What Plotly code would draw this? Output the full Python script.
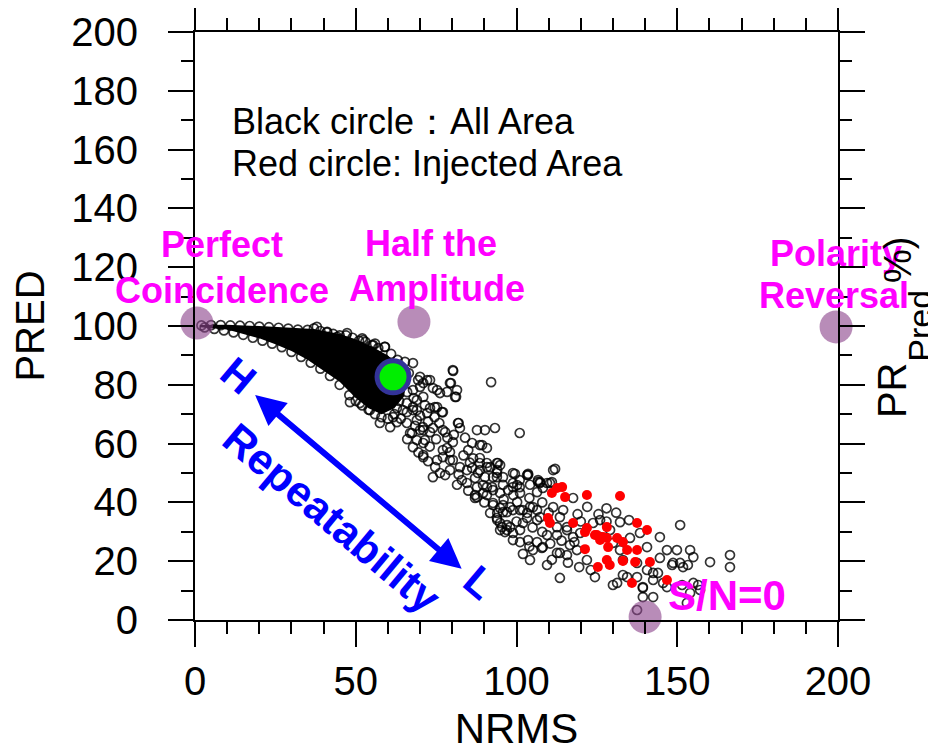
import plotly.graph_objects as go

FONT = "Liberation Sans, Arial, sans-serif"

# ---- dense core of the black cloud (outline) ----
band_upper_nrms = [1.5, 10, 20, 30, 37, 45, 50, 55, 60, 64, 66]
band_upper_pred = [100.3, 100.4, 100.0, 99.4, 99.0, 97.3, 95.5, 93.0, 90.0, 86.0, 82.0]
band_lower_nrms = [65, 62, 58, 54, 50, 45, 40, 35, 30, 25, 20, 10, 1.5]
band_lower_pred = [76, 72, 70, 72, 75.5, 81, 84.8, 88.5, 91.5, 93.8, 95.8, 98.8, 99.6]

# ---- black open circles (All Area) ----
edge_circles = [
    (2, 100.2), (5, 100.3), (8, 100.3), (11, 100.2), (14, 100.1), (17, 100), (20, 99.8), (23, 99.6),
    (26, 99.4), (29, 99.1), (32, 98.8), (35, 98.7), (37, 99.2), (39, 98.3), (41, 97.8), (43, 97.3),
    (45, 96.8), (47, 96.8), (49, 96), (51, 95), (53, 94.6), (55, 93.5), (57, 92.5), (59, 92.9),
    (52, 95.8), (56, 94),
    (3, 99.5), (6, 99), (9, 98.5), (12, 97.8), (15, 97), (18, 96), (21, 95), (24, 94), (27, 92.8),
    (30, 91.2), (33, 89.5), (36, 87.5), (39, 85.5), (42, 83), (45, 80), (48, 76.5), (50, 74.5),
    (52, 73), (54, 71.5), (56, 70), (58, 69), (60, 68.5), (62, 70),
]
scatter_circles = [
    (52.3, 95.2), (55.4, 93.5), (59.1, 92.9), (65.3, 87.8), (80.2, 85), (73.1, 81.6), (75.3, 78.2),
    (79.3, 80.6), (80.9, 75.9), (78.4, 77.6), (70, 79.3), (71, 75.9), (67.8, 78.2), (69, 74.8),
    (73.1, 72.1), (75.3, 72.4), (77.1, 70.7), (72.2, 70.4), (69, 71.4), (65.9, 70.7), (57.5, 67),
    (60.7, 65.6), (62.8, 67.3), (65.9, 67), (69, 68), (71, 64.6), (74, 65.3), (77.1, 64.6),
    (48.2, 74.1), (51.3, 73.8), (54.4, 71.4), (58.5, 72.4), (62.8, 72.1), (65.9, 73.8), (69.4, 81.6),
    (37.9, 99.7), (41.1, 98), (44.2, 96.3), (47.3, 97.6), (67.8, 87.4), (70, 82.7), (72.2, 81.6),
    (53.5, 75.9), (57.5, 78.2), (61.6, 69), (67.8, 71.4), (66.9, 63.6), (70.9, 65.6),
    (80.3, 84.7), (92.1, 80.9), (76.2, 77.2), (79.6, 80.6), (81.5, 78.2), (81.2, 75.9), (71, 80.6),
    (74, 78.9), (82, 67), (82.4, 65.3), (87.7, 64.6), (90.2, 64.6), (93.3, 65.3), (101, 63.6),
    (85, 57.8), (88.6, 59.5), (90.8, 58.5), (78.4, 58.5), (77.1, 55.4), (79.3, 54.4), (67.8, 58.8),
    (71, 55.4), (69, 61.2), (70, 64.6), (67.5, 63.6), (74.7, 52), (76.2, 50), (74, 48.6), (79.3, 51),
    (82.4, 52), (81.5, 46), (84.6, 46.6), (88.6, 53.4), (88.6, 51), (91.8, 52), (94, 51), (94.2, 53.4),
    (87.7, 45.2), (89.6, 43.2), (87.7, 41.8), (90.8, 45.2), (92.7, 44.2), (95.8, 48.6), (98.9, 50),
    (103.3, 49.3), (95.8, 46), (98.9, 46.6), (101, 45.2), (104.2, 46), (107.3, 46.6), (111.4, 51),
    (109.5, 46.6), (92.7, 39.8), (94, 36.4), (97, 36.7), (94.9, 33),
    (64.7, 71.4), (67.8, 72.4), (71.5, 73.1), (74.6, 72.4), (76.8, 70.7), (73.1, 63.9), (71.5, 61.2),
    (71, 60.2), (71, 56.1), (77.8, 63.9), (81.8, 67), (80.2, 60.5), (77.1, 57.8), (79.3, 57.1),
    (86.2, 60.2), (89.3, 59.5), (75.3, 54.4), (77.8, 49.3), (80.2, 54.4), (84.6, 51), (86.2, 51.7),
    (83, 47.6), (88.6, 55.1), (90.8, 53.4), (93.9, 53.4), (88, 50), (90.2, 48.6), (89.6, 45.9),
    (92.4, 45.2), (93.9, 50), (87.1, 41.5), (90.8, 42.5), (92.7, 39.1), (94.9, 38.1), (93.9, 34.7),
    (100.2, 45.9), (97.4, 44.2), (94.9, 43.2), (106.7, 47.6), (111, 46.9), (108.2, 44.9), (98, 38.4),
    (101.1, 37.4), (103.3, 36.4), (105.1, 38.4), (107.3, 35), (102, 33), (95.5, 31.6), (98, 31.6),
    (112, 51.4), (103.6, 49.7), (99.5, 49.7), (101, 47.6), (106.7, 47), (117.6, 41.5), (90.8, 52),
    (92.7, 48.6), (94.9, 52.7), (93.9, 48.6), (94, 34), (95.8, 36.7), (98.9, 37.4), (97, 32.3),
    (97, 30.6), (98.9, 27.2), (94.9, 30.6), (104.2, 20.4), (109.5, 18.7), (107.9, 24.5), (105.1, 23.8),
    (113.5, 22.8), (113.5, 14.3), (87.1, 48.3), (87.1, 42.5), (95.8, 39.1), (91.8, 36.4), (98.9, 45.2),
    (101.1, 43.2), (100.2, 40.1), (103.6, 49.3), (107.3, 46.9), (106.4, 43.5), (110.4, 46.6),
    (102, 37.4), (104.2, 38.4), (106.4, 37.4), (103.3, 34.7), (106.4, 34), (101.1, 30.6), (96.4, 29.9),
    (98.9, 29.6), (101.1, 26.5), (103.6, 27.2), (106.4, 26.5), (108.2, 24.8), (109.5, 28.9),
    (112.6, 28.9), (111.4, 38.4), (113.5, 35), (114.5, 37.4), (112.6, 31.6), (115.7, 30.6),
    (117.6, 28.2), (116.6, 25.5), (118.8, 23.8), (115.7, 22.1), (112.6, 22.8), (121.9, 20.4),
    (119.5, 18), (123.1, 17), (124.4, 14.6), (115.7, 31.6), (119.8, 29.6), (123.8, 33), (126, 28.2),
    (129.1, 30.6), (132.2, 33.3), (130, 26.2), (132.2, 23.8), (135.3, 27.9), (138.4, 29.6),
    (140.6, 24.8), (133.1, 20.4), (137.5, 19.4), (140.6, 17), (131.3, 12.6), (134.4, 14.6),
    (139.3, 11.2), (142.5, 7.8), (144.6, 28.2), (146.8, 23.8), (144.6, 21.1), (142.5, 16),
    (145.6, 12.6), (149.9, 23.8), (150.9, 32.3), (154, 23.8), (155, 21.4), (148.7, 19.4), (151.8, 18),
    (155, 12.6), (157.1, 10.2), (160.2, 19.7), (166.4, 22.1), (166.4, 18), (153, 5.8),
    (130, 11.9), (133.1, 15.3), (137.5, 14.6), (139.3, 10.9), (142.5, 13.6), (144, 16), (146.8, 11.2),
    (151.5, 11.9), (154, 9.2), (156.5, 11.9), (148.4, 18.7), (150.9, 19.4), (153.3, 18.7),
    (137.5, 3.4), (139.3, 7.8), (125.5, 36), (128, 38), (131, 36.5), (135, 34), (122, 38.5), (119, 36),
    (63.5, 74.5), (64, 68.5), (66, 61.5), (68.5, 66), (70, 69.5), (72.5, 67.5), (74.5, 69), (76, 67),
    (73, 59), (75, 61.5), (69.5, 57), (72.5, 54), (78.5, 62), (80.5, 63), (84, 62), (83.5, 56),
    (86.5, 55), (85.5, 53.5), (82, 49.5), (85, 44), (90, 40), (96, 41), (99, 42.5), (104, 41.5),
    (108, 40), (110, 36.5), (105, 31.5), (108, 30), (110.5, 26), (104, 25), (102, 22.5), (100, 33.5),
    (111, 20.5), (116, 19.5), (118, 26.5), (114, 27), (120, 33.5), (126, 34), (128, 33.5),
    (60, 76), (62, 77.5), (64, 80), (66.5, 84), (63, 88.5), (61, 90.5), (66, 77.5), (68, 75.5),
]
black_nrms = [p[0] for p in edge_circles + scatter_circles]
black_pred = [p[1] for p in edge_circles + scatter_circles]

# ---- red filled circles (Injected Area) ----
red_nrms = [112.6, 114.2, 111, 115.1, 121.9, 132.2, 109.8, 110.4, 117.6, 121.9, 121.3, 128.1, 125,
            126.9, 126, 128.1, 131.3, 133.1, 134.4, 128.5, 121.3, 137.5, 140.6, 137.5, 128.1, 133.1,
            136.9, 141.5, 125.3, 135.9, 146.8, 124.4, 129]
red_pred = [44.9, 45.2, 43.2, 41.8, 42.5, 42.2, 34.7, 33, 33, 31.3, 29.9, 31.6, 28.9,
            28.2, 27.2, 27.9, 27.9, 26.5, 23.8, 24.8, 24.1, 33, 30.6, 23.8, 20.4, 20.1,
            19.7, 19.7, 18, 12.6, 13.6, 28.9, 18.7]

# ---- reference markers ----
ref_nrms = [0.6, 68.1, 199.4, 140]
ref_pred = [101, 101.4, 99.7, 1]
mean_nrms = [61.6]
mean_pred = [82.7]

x_ticks = [0, 50, 100, 150, 200]
y_ticks = [0, 20, 40, 60, 80, 100, 120, 140, 160, 180, 200]

fig = go.Figure()
fig.add_trace(go.Scatter(
    x=band_upper_nrms + band_lower_nrms, y=band_upper_pred + band_lower_pred,
    mode="lines", fill="toself", fillcolor="black", line=dict(width=0, color="black"),
    hoverinfo="skip", showlegend=False))
fig.add_trace(go.Scatter(
    x=black_nrms, y=black_pred, mode="markers", showlegend=False,
    marker=dict(size=9, color="rgba(0,0,0,0)", line=dict(color="rgba(0,0,0,0.8)", width=1.7))))
fig.add_trace(go.Scatter(
    x=red_nrms, y=red_pred, mode="markers", showlegend=False,
    marker=dict(size=10, color="#ff0000", line=dict(width=0))))
fig.add_trace(go.Scatter(
    x=ref_nrms, y=ref_pred, mode="markers", showlegend=False, cliponaxis=False,
    marker=dict(size=33, color="rgba(140,70,140,0.62)", line=dict(width=0))))
fig.add_trace(go.Scatter(
    x=mean_nrms, y=mean_pred, mode="markers", showlegend=False,
    marker=dict(size=32, color="#00ee00", line=dict(color="#333399", width=5))))

axis_common = dict(
    showline=True, linewidth=2, linecolor="black", mirror="allticks",
    ticks="outside", ticklen=25, tickwidth=2, tickcolor="black",
    showgrid=False, zeroline=False, automargin=False,
    tickfont=dict(family=FONT, size=40, color="black"),
)
fig.update_xaxes(
    range=[0, 200], tickvals=x_ticks, ticktext=[str(v) for v in x_ticks],
    minor=dict(dtick=10, ticklen=12, tickwidth=2, tickcolor="black", ticks="outside"),
    title=dict(text="NRMS", font=dict(family=FONT, size=42, color="black"), standoff=12),
    **axis_common)
fig.update_yaxes(
    range=[0, 200], tickvals=y_ticks, ticktext=[str(v) for v in y_ticks],
    minor=dict(dtick=10, ticklen=12, tickwidth=2, tickcolor="black", ticks="outside"),
    title=dict(text="PRED", font=dict(family=FONT, size=40, color="black"), standoff=16),
    ticklabelstandoff=22,
    **axis_common)

MAG = "#ff00ff"
BLUE = "#0000ff"
ann = []
def txt(x, y, s, size, color, bold=False, angle=0, xanchor="center", xref="x", yref="y"):
    ann.append(dict(x=x, y=y, xref=xref, yref=yref, text=("<b>%s</b>" % s) if bold else s,
                    showarrow=False, textangle=angle, xanchor=xanchor, yanchor="middle",
                    font=dict(family=FONT, size=size, color=color)))

txt(10.9, 169.4, "Black circle：All Area", 36, "black", xanchor="left")
txt(10.9, 155.4, "Red circle: Injected Area", 36, "black", xanchor="left")
txt(8.4, 127.6, "Perfect", 36, MAG, True)
txt(8.4, 112.2, "Coincidence", 36, MAG, True)
txt(73.4, 128.2, "Half the", 36, MAG, True)
txt(75.3, 112.9, "Amplitude", 36, MAG, True)
txt(199.4, 124.8, "Polarity", 36, MAG, True)
txt(198.8, 110.5, "Reversal", 36, MAG, True)
txt(165.5, 8.2, "S/N=0", 42, MAG, True)
txt(13.4, 83, "H", 42, BLUE, True, 40)
txt(88.6, 12.9, "L", 42, BLUE, True, 40)
txt(42.6, 34.7, "Repeatability", 43, BLUE, True, 40)
txt(1.084, 0.391, "PR", 40, "black", angle=-90, xref="paper", yref="paper")
txt(1.127, 0.5, "Pred", 34, "black", angle=-90, xref="paper", yref="paper")
txt(1.093, 0.612, "%)", 38, "black", angle=-90, xref="paper", yref="paper")

ann.append(dict(x=18.7, y=76.5, ax=83.4, ay=17, xref="x", yref="y", axref="x", ayref="y",
                text="", showarrow=True, arrowside="end+start", arrowhead=2, startarrowhead=2,
                arrowwidth=6, arrowsize=1.0, startarrowsize=1.0, arrowcolor=BLUE,
                standoff=0, startstandoff=0))

# page body has an 8px default margin, so the plot frame is offset to land at 195..838 x 32..620
fig.update_layout(
    width=936, height=751, margin=dict(l=187, r=106, t=24, b=139, autoexpand=False),
    paper_bgcolor="white", plot_bgcolor="white", annotations=ann,
    font=dict(family=FONT, color="black"),
)
fig.write_html("out.html")
